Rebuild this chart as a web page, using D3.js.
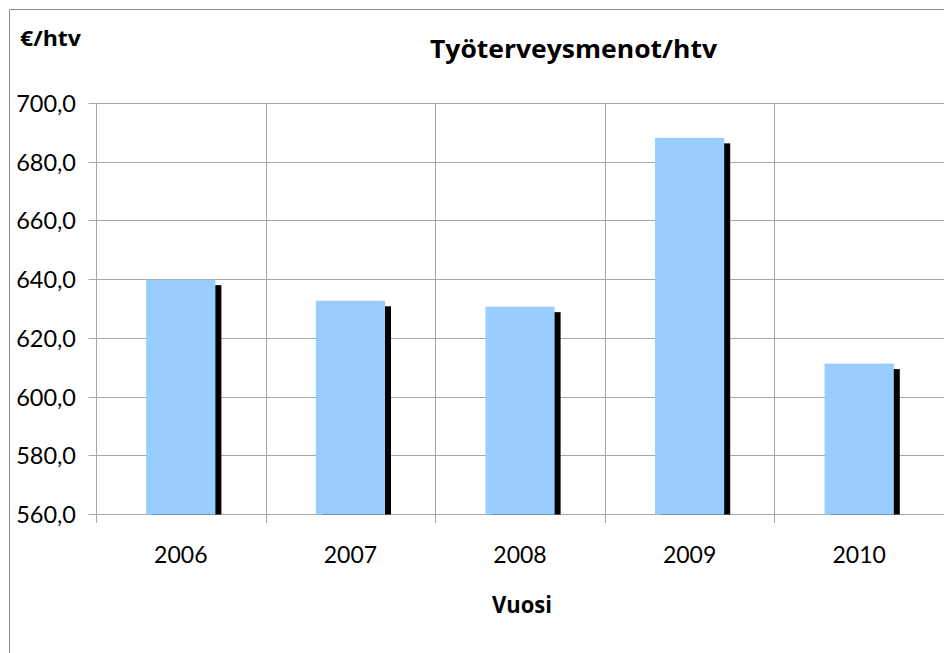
<!DOCTYPE html>
<html>
<head>
<meta charset="utf-8">
<script src="https://cdn.jsdelivr.net/npm/d3@7"></script>
<style>
  html, body { margin: 0; padding: 0; background: #fff; }
  svg { display: block; font-family: Lato, "Open Sans", sans-serif; }
  .bold { font-family: "Open Sans", Lato, sans-serif; font-weight: bold; }
</style>
</head>
<body>
<div id="chart"></div>
<script>
var width = 944,
    height = 653;

// chart data
var years = ["2006", "2007", "2008", "2009", "2010"];
var values = [640.0, 632.8, 630.8, 688.3, 611.4];
var yTickValues = [560, 580, 600, 620, 640, 660, 680, 700];

var plot = { left: 96.5, right: 944, top: 103.5, bottom: 514.5 };

var svg = d3.select("#chart")
    .append("svg")
    .attr("width", width)
    .attr("height", height);

// outer chart border (cropped on the right and bottom)
svg.append("path")
    .attr("d", "M9.5," + height + "V9.5H" + width)
    .attr("fill", "none")
    .attr("stroke", "#8c8c8c")
    .attr("stroke-width", 1);

var fi = d3.formatLocale({ decimal: ",", thousands: "\u00a0", grouping: [3], currency: ["", "\u00a0€"] });
var fmt = fi.format(".1f");

var x = d3.scaleBand()
    .domain(years)
    .range([plot.left - 0.5, plot.right])
    .paddingInner(0.592)
    .paddingOuter(0.296);

var y = d3.scaleLinear()
    .domain([560, 700])
    .range([plot.bottom, plot.top]);

// category boundaries
var gap = (x.step() - x.bandwidth()) / 2;
var edges = years.map(function (d) { return x(d) - gap; });
edges.push(x(years[years.length - 1]) + x.bandwidth() + gap);

var grid = svg.append("g").attr("stroke", "#a6a6a6").attr("stroke-width", 1);

// horizontal gridlines
grid.selectAll("line.h")
    .data(yTickValues)
    .enter().append("line")
    .attr("class", "h")
    .attr("x1", plot.left - 8)
    .attr("x2", plot.right)
    .attr("y1", function (d) { return Math.round(y(d) - 0.5) + 0.5; })
    .attr("y2", function (d) { return Math.round(y(d) - 0.5) + 0.5; });

// vertical gridlines + ticks below axis
grid.selectAll("line.v")
    .data(edges)
    .enter().append("line")
    .attr("class", "v")
    .attr("x1", function (d) { return Math.round(d) + 0.5; })
    .attr("x2", function (d) { return Math.round(d) + 0.5; })
    .attr("y1", plot.top)
    .attr("y2", plot.bottom + 8.5);

// y tick labels
svg.append("g")
    .selectAll("text")
    .data(yTickValues)
    .enter().append("text")
    .attr("x", 76)
    .attr("y", function (d) { return y(d); })
    .attr("dy", "0.36em")
    .attr("text-anchor", "end")
    .attr("font-size", 23.5)
    .attr("fill", "#000")
    .text(function (d) { return fmt(d); });

// x tick labels
svg.append("g")
    .selectAll("text")
    .data(years)
    .enter().append("text")
    .attr("x", function (d) { return x(d) + x.bandwidth() / 2; })
    .attr("y", 563)
    .attr("text-anchor", "middle")
    .attr("font-size", 23)
    .attr("fill", "#000")
    .text(function (d) { return d; });

// bars with shadow
var bars = svg.append("g");

bars.selectAll("rect.shadow")
    .data(values)
    .enter().append("rect")
    .attr("class", "shadow")
    .attr("x", function (d, i) { return x(years[i]) + 6; })
    .attr("y", function (d) { return y(d) + 5.5; })
    .attr("width", x.bandwidth())
    .attr("height", function (d) { return plot.bottom - y(d) - 5.5; })
    .attr("fill", "#000");

bars.selectAll("rect.bar")
    .data(values)
    .enter().append("rect")
    .attr("class", "bar")
    .attr("x", function (d, i) { return x(years[i]); })
    .attr("y", function (d) { return y(d); })
    .attr("width", x.bandwidth())
    .attr("height", function (d) { return plot.bottom - y(d); })
    .attr("fill", "#99ccff");

// titles
svg.append("text")
    .attr("class", "bold")
    .attr("x", 430)
    .attr("y", 58)
    .attr("font-size", 25)
    .attr("textLength", 287)
    .attr("lengthAdjust", "spacingAndGlyphs")
    .text("Työterveysmenot/htv");

svg.append("text")
    .attr("class", "bold")
    .attr("x", 20)
    .attr("y", 46)
    .attr("font-size", 22)
    .attr("textLength", 61)
    .attr("lengthAdjust", "spacingAndGlyphs")
    .text("€/htv");

svg.append("text")
    .attr("class", "bold")
    .attr("x", 492)
    .attr("y", 613)
    .attr("font-size", 23.5)
    .attr("textLength", 60)
    .attr("lengthAdjust", "spacingAndGlyphs")
    .text("Vuosi");
</script>
</body>
</html>
